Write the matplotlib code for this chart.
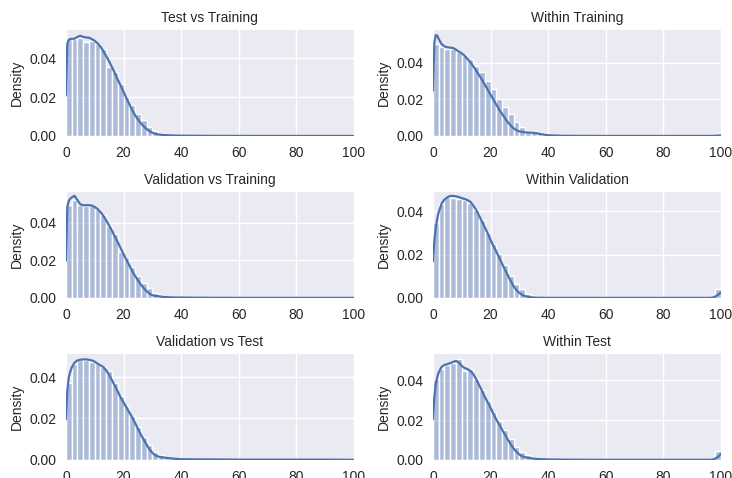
import numpy as np
import matplotlib
matplotlib.use('Agg')
import matplotlib.pyplot as plt

# panel titles, in reading order (row by row)
titles = ['Test vs Training', 'Within Training',
          'Validation vs Training', 'Within Validation',
          'Validation vs Test', 'Within Test']

bin_edges = list(range(0, 102, 2))    # 50 bins of width 2 on 0..100

# histogram heights (density), one list per panel
hist_test_train = [0.0499, 0.0500, 0.0505, 0.0483, 0.0487, 0.0473, 0.0448, 0.0357, 0.0331, 0.0270,
                   0.0200, 0.0158, 0.0114, 0.0080, 0.0048, 0.0028, 0.0016, 0.0007, 0.0004, 0.0003,
                   0.0002, 0.0002, 0.0001, 0.0001, 0.0001, 0.00005, 0.00005, 0.00005, 0.00005, 0.00005,
                   0.00005, 0.00005, 0.00005, 0.00005, 0.00005, 0.00005, 0.00005, 0.00005, 0.00005, 0.00005,
                   0.00005, 0.00005, 0.00005, 0.00005, 0.00005, 0.00002, 0.00002, 0.00002, 0.00002, 0.00002]
hist_within_train = [0.0504, 0.0486, 0.0477, 0.0477, 0.0462, 0.0444, 0.0422, 0.0385, 0.0349, 0.0303,
                     0.0258, 0.0203, 0.0157, 0.0120, 0.0079, 0.0047, 0.0029, 0.0024, 0.0020, 0.0015,
                     0.0008, 0.0004, 0.0002, 0.0001, 0.0001, 0.00005, 0.00005, 0.00005, 0.00005, 0.00005,
                     0.00005, 0.00005, 0.00005, 0.00005, 0.00005, 0.00005, 0.00005, 0.00005, 0.00005, 0.00005,
                     0.00005, 0.00005, 0.00005, 0.00005, 0.00005, 0.00005, 0.00005, 0.00005, 0.00005, 0.0003]
hist_val_train = [0.0493, 0.0520, 0.0493, 0.0487, 0.0487, 0.0475, 0.0439, 0.0385, 0.0340, 0.0242,
                  0.0215, 0.0165, 0.0116, 0.0080, 0.0050, 0.0027, 0.0013, 0.0007, 0.0004, 0.0003,
                  0.0002, 0.0001, 0.0001, 0.00005, 0.00005, 0.00005, 0.00005, 0.00005, 0.00005, 0.00005,
                  0.00005, 0.00005, 0.00005, 0.00005, 0.00005, 0.00005, 0.00005, 0.00005, 0.00005, 0.00005,
                  0.00005, 0.00005, 0.00005, 0.00005, 0.00005, 0.00005, 0.00005, 0.00005, 0.00005, 0.00005]
hist_within_val = [0.0346, 0.0431, 0.0465, 0.0462, 0.0457, 0.0453, 0.0437, 0.0406, 0.0357, 0.0299,
                   0.0248, 0.0202, 0.0152, 0.0101, 0.0062, 0.0039, 0.0019, 0.0009, 0.0004, 0.0002,
                   0.0001, 0.00005, 0.00002, 0, 0, 0, 0, 0, 0, 0,
                   0, 0, 0, 0, 0, 0, 0, 0, 0, 0,
                   0, 0, 0, 0, 0, 0, 0, 0, 0, 0.0043]
hist_val_test = [0.0374, 0.0462, 0.0481, 0.0481, 0.0475, 0.0462, 0.0449, 0.0430, 0.0374, 0.0310,
                 0.0262, 0.0214, 0.0161, 0.0110, 0.0070, 0.0038, 0.0022, 0.0014, 0.0008, 0.0005,
                 0.0003, 0.0002, 0.0002, 0.0001, 0.0001, 0.0001, 0.0001, 0.0001, 0.0001, 0.0001,
                 0.0001, 0.0001, 0.0001, 0.0001, 0.0001, 0.0001, 0.0001, 0.0001, 0.0001, 0.0001,
                 0.0001, 0.0001, 0.0001, 0.0001, 0.0001, 0.0001, 0.0001, 0, 0, 0]
hist_within_test = [0.0407, 0.0457, 0.0478, 0.0490, 0.0507, 0.0445, 0.0457, 0.0407, 0.0352, 0.0298,
                    0.0240, 0.0195, 0.0148, 0.0107, 0.0065, 0.0040, 0.0023, 0.0012, 0.0006, 0.0003,
                    0.0002, 0.0001, 0.00005, 0.00005, 0.00002, 0.00002, 0.00002, 0.00002, 0.00002, 0.00002,
                    0.00002, 0.00002, 0.00002, 0.00002, 0.00002, 0.00002, 0.00002, 0.00002, 0.00002, 0.00002,
                    0.00002, 0.00002, 0.00002, 0.00002, 0.00002, 0.00002, 0.00002, 0.00002, 0.00002, 0.0047]

# kde curves at these x positions
kde_x = [0, 0.5, 1, 1.5, 2, 3, 4, 5, 6, 7, 8, 9, 10, 11, 12, 13, 14, 15, 16, 17,
         18, 19, 20, 21, 22, 23, 24, 25, 26, 27, 28, 29, 30, 31, 32, 34, 36, 38, 40,
         45, 50, 60, 70, 80, 90, 96, 97, 98, 99, 100]
kde_test_train = [0.0210, 0.0475, 0.0495, 0.0499, 0.0500, 0.0501, 0.0510, 0.0516, 0.0510, 0.0507,
                  0.0506, 0.0499, 0.0490, 0.0477, 0.0460, 0.0437, 0.0411, 0.0384, 0.0354, 0.0323,
                  0.0290, 0.0260, 0.0228, 0.0195, 0.0165, 0.0133, 0.0108, 0.0085, 0.0066, 0.0050,
                  0.0036, 0.0025, 0.0017, 0.0011, 0.0008, 0.0005, 0.0003, 0.0002, 0.00015,
                  0.0001, 0.00005, 0.00003, 0.00002, 0.00002, 0.00001, 0.00001, 0.00001, 0.00001, 0.00001, 0.00001]
kde_within_train = [0.0250, 0.0513, 0.0553, 0.0550, 0.0532, 0.0504, 0.0491, 0.0486, 0.0484, 0.0482,
                    0.0473, 0.0462, 0.0453, 0.0440, 0.0422, 0.0404, 0.0382, 0.0358, 0.0334, 0.0309,
                    0.0281, 0.0254, 0.0226, 0.0199, 0.0172, 0.0144, 0.0121, 0.0097, 0.0075, 0.0057,
                    0.0042, 0.0031, 0.0025, 0.0022, 0.0020, 0.0018, 0.0015, 0.0009, 0.0004,
                    0.0001, 0.00005, 0.00002, 0.00001, 0.00001, 0.00001, 0.00002, 0.00005, 0.0001, 0.0002, 0.0003]
kde_val_train = [0.0200, 0.0484, 0.0516, 0.0527, 0.0534, 0.0543, 0.0520, 0.0498, 0.0493, 0.0493,
                 0.0493, 0.0491, 0.0484, 0.0473, 0.0457, 0.0437, 0.0412, 0.0385, 0.0358, 0.0326,
                 0.0296, 0.0265, 0.0233, 0.0203, 0.0174, 0.0143, 0.0118, 0.0093, 0.0072, 0.0052,
                 0.0036, 0.0023, 0.0014, 0.0011, 0.0009, 0.0005, 0.0003, 0.0002, 0.0002,
                 0.0001, 0.00005, 0.00002, 0.00001, 0.00001, 0.00001, 0.00001, 0.00001, 0.00001, 0.00001, 0.00001]
kde_within_val = [0.0170, 0.0264, 0.0326, 0.0365, 0.0395, 0.0434, 0.0454, 0.0464, 0.0470, 0.0470,
                  0.0468, 0.0465, 0.0460, 0.0456, 0.0451, 0.0443, 0.0426, 0.0406, 0.0380, 0.0353,
                  0.0326, 0.0298, 0.0268, 0.0240, 0.0214, 0.0186, 0.0158, 0.0130, 0.0104, 0.0078,
                  0.0054, 0.0036, 0.0023, 0.0014, 0.0008, 0.0003, 0.0001, 0.00005, 0.00002,
                  0, 0, 0, 0, 0, 0, 0, 0.0001, 0.0006, 0.0015, 0.0025]
kde_val_test = [0.0198, 0.0334, 0.0398, 0.0425, 0.0446, 0.0470, 0.0481, 0.0484, 0.0486, 0.0486,
                0.0484, 0.0481, 0.0475, 0.0465, 0.0457, 0.0449, 0.0433, 0.0411, 0.0385, 0.0358,
                0.0331, 0.0302, 0.0278, 0.0254, 0.0230, 0.0206, 0.0179, 0.0150, 0.0123, 0.0098,
                0.0074, 0.0051, 0.0034, 0.0022, 0.0016, 0.0011, 0.0008, 0.0005, 0.0003,
                0.0002, 0.0002, 0.0001, 0.0001, 0.0001, 0.0001, 0.00005, 0.00003, 0.00003, 0.00003, 0.00003]
kde_within_test = [0.0207, 0.0315, 0.0382, 0.0415, 0.0440, 0.0468, 0.0478, 0.0482, 0.0487, 0.0493,
                   0.0498, 0.0490, 0.0473, 0.0462, 0.0457, 0.0448, 0.0432, 0.0407, 0.0378, 0.0348,
                   0.0318, 0.0290, 0.0262, 0.0232, 0.0203, 0.0178, 0.0152, 0.0127, 0.0102, 0.0078,
                   0.0057, 0.0040, 0.0027, 0.0018, 0.0013, 0.0008, 0.0005, 0.0003, 0.0002,
                   0.0001, 0.00005, 0.00001, 0.00001, 0.00001, 0.00001, 0.00002, 0.0001, 0.0006, 0.0016, 0.0030]

hists = [hist_test_train, hist_within_train, hist_val_train,
         hist_within_val, hist_val_test, hist_within_test]
kdes = [kde_test_train, kde_within_train, kde_val_train,
        kde_within_val, kde_val_test, kde_within_test]
y_tops = [0.0545, 0.0580, 0.0563, 0.0488, 0.0512, 0.0533]

# seaborn darkgrid look
plt.rcParams.update({
    'font.family': ['Liberation Sans', 'DejaVu Sans'],
    'font.size': 10,
    'axes.facecolor': '#EAEAF2',
    'axes.edgecolor': 'white',
    'axes.grid': True,
    'grid.color': 'white',
    'grid.linewidth': 1.0,
    'axes.labelcolor': '#262626',
    'text.color': '#262626',
    'xtick.color': '#262626',
    'ytick.color': '#262626',
    'xtick.major.size': 0,
    'ytick.major.size': 0,
    'xtick.major.pad': 7,
    'ytick.major.pad': 7,
    'axes.titlesize': 10,
    'axes.labelsize': 10,
})

blue = '#4C72B0'
fig, axes = plt.subplots(3, 2, figsize=(7.32, 4.78), dpi=100)
fig.subplots_adjust(left=0.090, right=0.985, top=0.937, bottom=0.038, wspace=0.274, hspace=0.53)

for ax, title, h, k, top in zip(axes.flat, titles, hists, kdes, y_tops):
    ax.bar(bin_edges[:-1], h, width=2, align='edge',
           facecolor=(0.298, 0.447, 0.690, 0.4), edgecolor='white', linewidth=1.0)
    ax.plot(kde_x, k, color=blue, lw=1.6)
    ax.set_xlim(0, 100)
    ax.set_ylim(0, top)
    ax.set_xticks([0, 20, 40, 60, 80, 100])
    ax.set_yticks([0.0, 0.02, 0.04])
    ax.yaxis.set_major_formatter(matplotlib.ticker.FormatStrFormatter('%.2f'))
    for s in ax.spines.values():
        s.set_visible(False)
    ax.set_axisbelow(True)
    ax.set_title(title)
    ax.set_ylabel('Density')

plt.savefig('out.png', dpi=100)
